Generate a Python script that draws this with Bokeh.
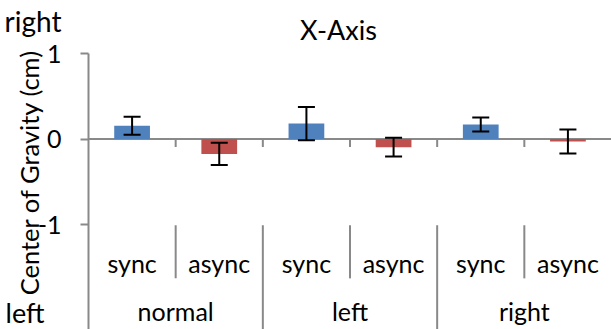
import math
from bokeh.plotting import figure
from bokeh.models import (Range1d, ColumnDataSource, Whisker, TeeHead, LinearAxis,
                          FixedTicker, Label)
from bokeh.embed import file_html
from bokeh.resources import INLINE

# ---- data ----
groups = ["normal", "left", "right"]
conditions = ["sync", "async"]
means = [0.155, -0.175, 0.18, -0.095, 0.17, -0.03]
errors = [0.105, 0.13, 0.195, 0.11, 0.083, 0.14]
condition_colors = ["#4F81BD", "#C0504D"]
y_ticks = [-1, 0, 1]
y_tick_labels = ["-1", "0", "1"]
title_text = "X-Axis"
y_label = "Center of Gravity (cm)"
top_note = "right"
bottom_note = "left"

# ---- layout / style ----
FONT = "Lato"
GREY = "#898989"
W, H = 611, 329
X_LEFT = -1.0096          # room left of the value axis (slot units)
Y_TOP, Y_BOTTOM = 1.62, -2.228

factors = [(g, c) for g in groups for c in conditions]
n = len(factors)
xs = [i + 0.5 for i in range(n)]                      # slot centres
colors = [condition_colors[conditions.index(c)] for _, c in factors]
src = ColumnDataSource(dict(
    x=xs, top=means,
    upper=[m + e for m, e in zip(means, errors)],
    lower=[m - e for m, e in zip(means, errors)],
    color=colors,
))

p = figure(x_range=Range1d(X_LEFT, n), y_range=Range1d(Y_BOTTOM, Y_TOP), width=W, height=H,
           output_backend="svg", toolbar_location=None, x_axis_location=None,
           y_axis_location=None, min_border=0)
p.outline_line_color = None
p.xgrid.visible = False
p.ygrid.visible = False
p.background_fill_color = "white"
p.border_fill_color = "white"

# value axis
yax = LinearAxis(fixed_location=0, bounds=(Y_BOTTOM, max(y_ticks)),
                 ticker=FixedTicker(ticks=y_ticks),
                 major_label_overrides=dict(zip(y_ticks, y_tick_labels)))
yax.minor_tick_line_color = None
yax.major_tick_out = 8
yax.major_tick_in = 0
yax.major_tick_line_color = GREY
yax.major_tick_line_width = 2
yax.axis_line_color = GREY
yax.axis_line_width = 2
yax.major_label_text_font = FONT
yax.major_label_text_font_size = "25px"
yax.major_label_text_color = "black"
yax.major_label_standoff = 19
p.add_layout(yax, "left")

# zero line
p.segment(x0=[0], y0=[0], x1=[n], y1=[0], line_color=GREY, line_width=2)

# bars
p.vbar(x="x", top="top", bottom=0, width=0.41, source=src, fill_color="color", line_color=None)

# boundary ticks on the zero line
bounds = list(range(1, n))
p.segment(x0=bounds, y0=[0] * len(bounds), x1=bounds, y1=[-0.094] * len(bounds),
          line_color=GREY, line_width=2)

# error bars
p.add_layout(Whisker(source=src, base="x", upper="upper", lower="lower",
                     line_color="black", line_width=2, level="overlay",
                     upper_head=TeeHead(size=17, line_color="black", line_width=2),
                     lower_head=TeeHead(size=17, line_color="black", line_width=2)))

# label separators
k = len(conditions)
inner = [g * k + j for g in range(len(groups)) for j in range(1, k)]
outer = [g * k for g in range(1, len(groups))]
p.segment(x0=inner, y0=[-1.01] * len(inner), x1=inner, y1=[-1.63] * len(inner),
          line_color=GREY, line_width=2)
p.segment(x0=outer, y0=[-1.01] * len(outer), x1=outer, y1=[Y_BOTTOM] * len(outer),
          line_color=GREY, line_width=2)

# category labels (sync / async)
cond_labels = [c for _, c in factors]
ax_a = LinearAxis(fixed_location=-1.275, ticker=FixedTicker(ticks=xs),
                  major_label_overrides=dict(zip(xs, cond_labels)))
# group labels (normal / left / right)
group_centres = [g * k + k // 2 for g in range(len(groups))]
ax_b = LinearAxis(fixed_location=-1.834, ticker=FixedTicker(ticks=group_centres),
                  major_label_overrides=dict(zip(group_centres, groups)))
for ax in (ax_a, ax_b):
    ax.axis_line_color = None
    ax.major_tick_line_color = None
    ax.minor_tick_line_color = None
    ax.major_tick_out = 0
    ax.major_tick_in = 0
    ax.major_label_standoff = 0
    ax.major_label_text_font = FONT
    ax.major_label_text_font_size = "25px"
    ax.major_label_text_color = "black"
    p.add_layout(ax, "below")

# title, side notes and value-axis label
p.add_layout(Label(x=2.868, y=1.285, text=title_text, text_font=FONT, text_font_size="27px",
                   text_color="black", text_align="center", text_baseline="alphabetic"))
p.add_layout(Label(x=-0.963, y=1.385, text=top_note, text_font=FONT, text_font_size="28px",
                   text_color="black", text_align="left", text_baseline="alphabetic"))
p.add_layout(Label(x=-0.952, y=-2.035, text=bottom_note, text_font=FONT, text_font_size="27px",
                   text_color="black", text_align="left", text_baseline="alphabetic"))
p.add_layout(Label(x=-0.68, y=-0.39, text=y_label, angle=math.pi / 2, text_font=FONT,
                   text_font_size="25.5px", text_color="black", text_align="center",
                   text_baseline="middle"))

open("out.html", "w").write(file_html(p, INLINE))
